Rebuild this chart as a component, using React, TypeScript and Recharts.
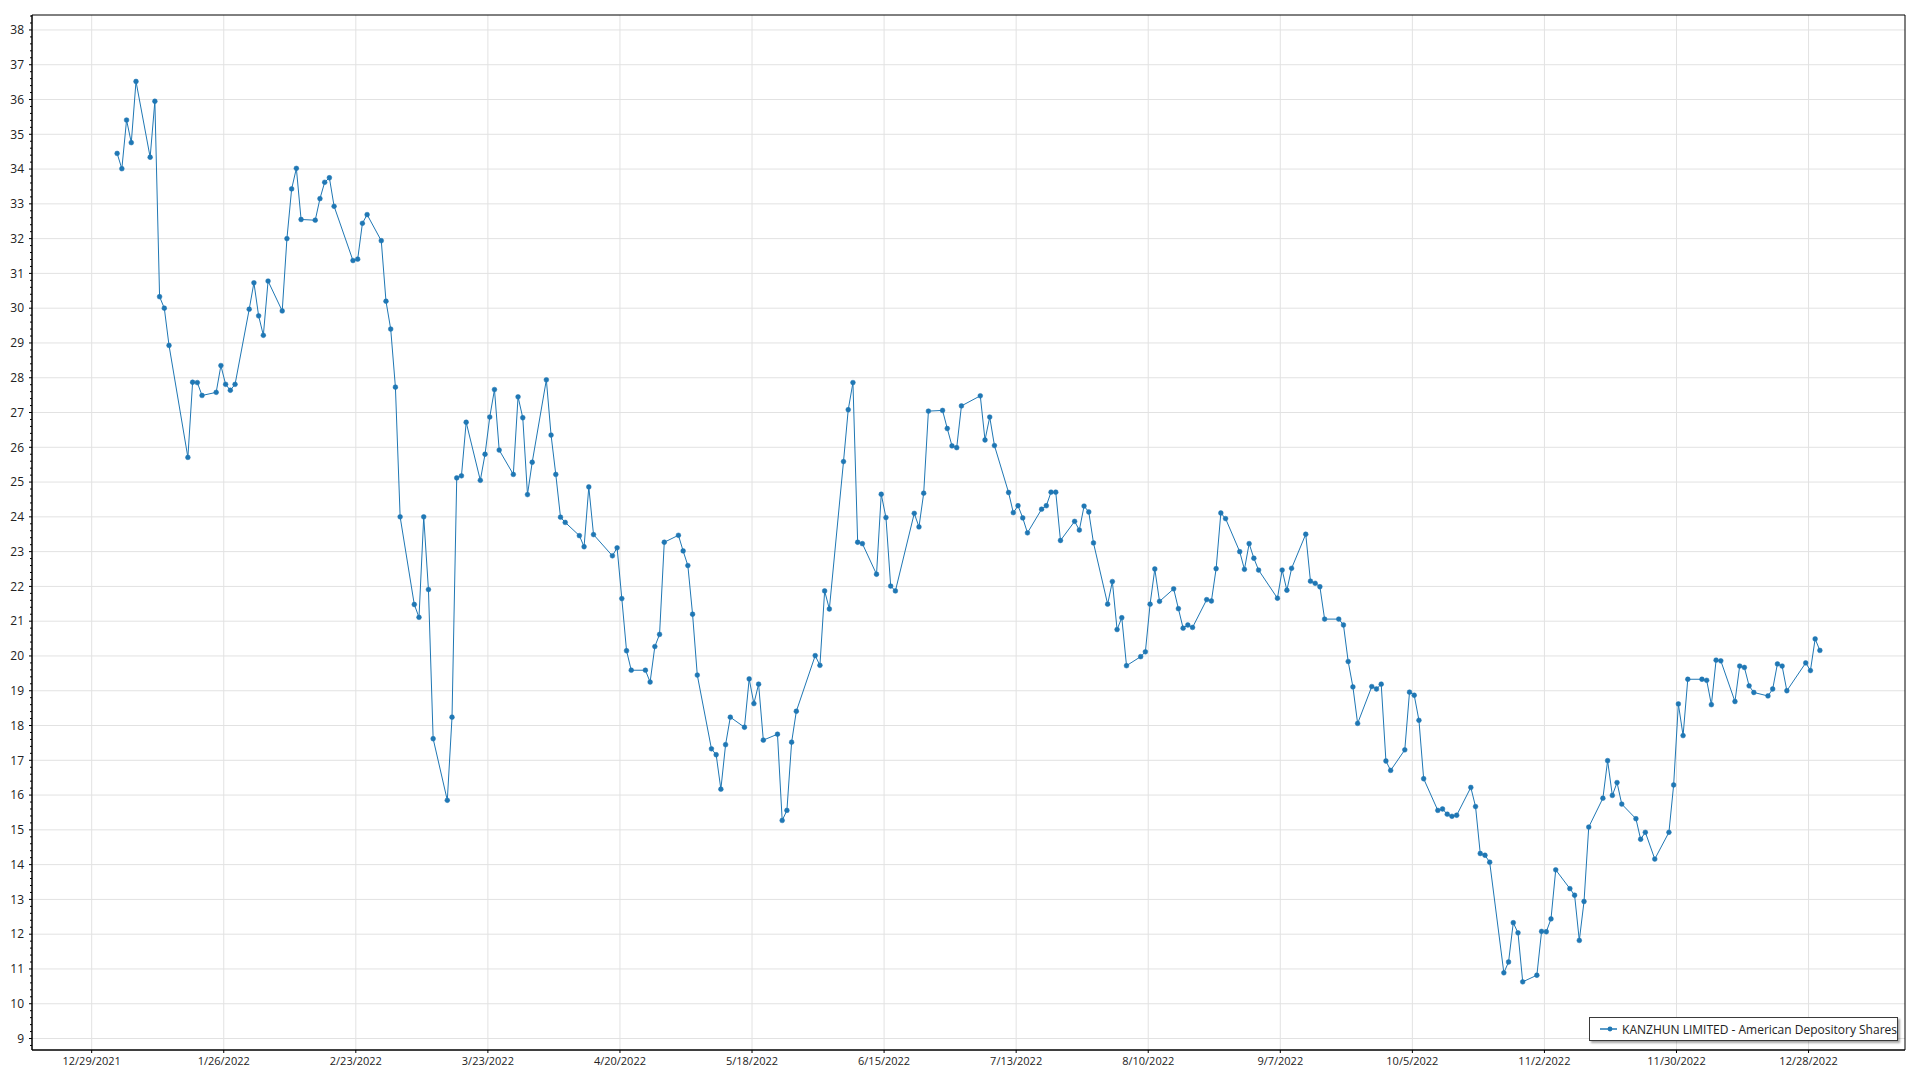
import React from 'react';
import { LineChart, Line, XAxis, YAxis, CartesianGrid, ReferenceArea } from 'recharts';

const SERIES_NAME = 'KANZHUN LIMITED - American Depository Shares';

const dates: string[] = [
  '2022-01-03','2022-01-04','2022-01-05','2022-01-06','2022-01-07','2022-01-10','2022-01-11','2022-01-12','2022-01-13','2022-01-14',
  '2022-01-18','2022-01-19','2022-01-20','2022-01-21','2022-01-24','2022-01-25','2022-01-26','2022-01-27','2022-01-28','2022-01-31',
  '2022-02-01','2022-02-02','2022-02-03','2022-02-04','2022-02-07','2022-02-08','2022-02-09','2022-02-10','2022-02-11','2022-02-14',
  '2022-02-15','2022-02-16','2022-02-17','2022-02-18','2022-02-22','2022-02-23','2022-02-24','2022-02-25','2022-02-28','2022-03-01',
  '2022-03-02','2022-03-03','2022-03-04','2022-03-07','2022-03-08','2022-03-09','2022-03-10','2022-03-11','2022-03-14','2022-03-15',
  '2022-03-16','2022-03-17','2022-03-18','2022-03-21','2022-03-22','2022-03-23','2022-03-24','2022-03-25','2022-03-28','2022-03-29',
  '2022-03-30','2022-03-31','2022-04-01','2022-04-04','2022-04-05','2022-04-06','2022-04-07','2022-04-08','2022-04-11','2022-04-12',
  '2022-04-13','2022-04-14','2022-04-18','2022-04-19','2022-04-20','2022-04-21','2022-04-22','2022-04-25','2022-04-26','2022-04-27',
  '2022-04-28','2022-04-29','2022-05-02','2022-05-03','2022-05-04','2022-05-05','2022-05-06','2022-05-09','2022-05-10','2022-05-11',
  '2022-05-12','2022-05-13','2022-05-16','2022-05-17','2022-05-18','2022-05-19','2022-05-20','2022-05-23','2022-05-24','2022-05-25',
  '2022-05-26','2022-05-27','2022-05-31','2022-06-01','2022-06-02','2022-06-03','2022-06-06','2022-06-07','2022-06-08','2022-06-09',
  '2022-06-10','2022-06-13','2022-06-14','2022-06-15','2022-06-16','2022-06-17','2022-06-21','2022-06-22','2022-06-23','2022-06-24',
  '2022-06-27','2022-06-28','2022-06-29','2022-06-30','2022-07-01','2022-07-05','2022-07-06','2022-07-07','2022-07-08','2022-07-11',
  '2022-07-12','2022-07-13','2022-07-14','2022-07-15','2022-07-18','2022-07-19','2022-07-20','2022-07-21','2022-07-22','2022-07-25',
  '2022-07-26','2022-07-27','2022-07-28','2022-07-29','2022-08-01','2022-08-02','2022-08-03','2022-08-04','2022-08-05','2022-08-08',
  '2022-08-09','2022-08-10','2022-08-11','2022-08-12','2022-08-15','2022-08-16','2022-08-17','2022-08-18','2022-08-19','2022-08-22',
  '2022-08-23','2022-08-24','2022-08-25','2022-08-26','2022-08-29','2022-08-30','2022-08-31','2022-09-01','2022-09-02','2022-09-06',
  '2022-09-07','2022-09-08','2022-09-09','2022-09-12','2022-09-13','2022-09-14','2022-09-15','2022-09-16','2022-09-19','2022-09-20',
  '2022-09-21','2022-09-22','2022-09-23','2022-09-26','2022-09-27','2022-09-28','2022-09-29','2022-09-30','2022-10-03','2022-10-04',
  '2022-10-05','2022-10-06','2022-10-07','2022-10-10','2022-10-11','2022-10-12','2022-10-13','2022-10-14','2022-10-17','2022-10-18',
  '2022-10-19','2022-10-20','2022-10-21','2022-10-24','2022-10-25','2022-10-26','2022-10-27','2022-10-28','2022-10-31','2022-11-01',
  '2022-11-02','2022-11-03','2022-11-04','2022-11-07','2022-11-08','2022-11-09','2022-11-10','2022-11-11','2022-11-14','2022-11-15',
  '2022-11-16','2022-11-17','2022-11-18','2022-11-21','2022-11-22','2022-11-23','2022-11-25','2022-11-28','2022-11-29','2022-11-30',
  '2022-12-01','2022-12-02','2022-12-05','2022-12-06','2022-12-07','2022-12-08','2022-12-09','2022-12-12','2022-12-13','2022-12-14',
  '2022-12-15','2022-12-16','2022-12-19','2022-12-20','2022-12-21','2022-12-22','2022-12-23','2022-12-27','2022-12-28','2022-12-29',
  '2022-12-30',
];

const closes: number[] = [
  34.45, 34.01, 35.41, 34.76, 36.52, 34.34, 35.95, 30.33, 30.00, 28.93,
  25.71, 27.87, 27.86, 27.49, 27.58, 28.35, 27.81, 27.64, 27.81, 29.97,
  30.73, 29.78, 29.22, 30.78, 29.92, 32.00, 33.43, 34.02, 32.55, 32.53,
  33.15, 33.62, 33.75, 32.93, 31.37, 31.41, 32.44, 32.69, 31.94, 30.20,
  29.40, 27.73, 24.00, 21.48, 21.11, 24.00, 21.91, 17.62, 15.85, 18.24,
  25.12, 25.18, 26.72, 25.05, 25.80, 26.87, 27.66, 25.92, 25.22, 27.45,
  26.85, 24.64, 25.57, 27.94, 26.35, 25.22, 23.99, 23.84, 23.46, 23.14,
  24.86, 23.49, 22.88, 23.11, 21.65, 20.15, 19.59, 19.59, 19.25, 20.27,
  20.62, 23.27, 23.47, 23.02, 22.60, 21.20, 19.45, 17.33, 17.16, 16.17,
  17.45, 18.24, 17.95, 19.34, 18.63, 19.19, 17.58, 17.75, 15.27, 15.56,
  17.52, 18.41, 20.01, 19.73, 21.87, 21.35, 25.59, 27.08, 27.86, 23.27,
  23.23, 22.35, 24.65, 23.98, 22.01, 21.87, 24.10, 23.71, 24.68, 27.04,
  27.06, 26.54, 26.04, 25.99, 27.19, 27.48, 26.21, 26.87, 26.05, 24.70,
  24.12, 24.32, 23.97, 23.54, 24.22, 24.32, 24.71, 24.71, 23.32, 23.87,
  23.62, 24.31, 24.14, 23.25, 21.49, 22.14, 20.76, 21.10, 19.72, 19.98,
  20.12, 21.49, 22.50, 21.57, 21.93, 21.36, 20.80, 20.89, 20.82, 21.62,
  21.58, 22.51, 24.11, 23.95, 23.00, 22.49, 23.23, 22.81, 22.47, 21.66,
  22.47, 21.89, 22.52, 23.50, 22.15, 22.09, 21.99, 21.06, 21.06, 20.89,
  19.84, 19.11, 18.06, 19.12, 19.05, 19.19, 16.98, 16.71, 17.30, 18.96,
  18.87, 18.15, 16.47, 15.56, 15.60, 15.45, 15.39, 15.42, 16.22, 15.67,
  14.32, 14.27, 14.07, 10.89, 11.20, 12.33, 12.04, 10.63, 10.82, 12.08,
  12.07, 12.44, 13.85, 13.31, 13.12, 11.82, 12.94, 15.08, 15.91, 16.99,
  15.99, 16.36, 15.74, 15.32, 14.73, 14.93, 14.16, 14.93, 16.29, 18.62,
  17.71, 19.33, 19.33, 19.30, 18.60, 19.88, 19.86, 18.69, 19.71, 19.67,
  19.14, 18.95, 18.85, 19.05, 19.77, 19.71, 19.00, 19.80, 19.58, 20.49,
  20.16,
];

const xTickLabels: string[] = [
  '12/29/2021', '1/26/2022', '2/23/2022', '3/23/2022', '4/20/2022', '5/18/2022', '6/15/2022',
  '7/13/2022', '8/10/2022', '9/7/2022', '10/5/2022', '11/2/2022', '11/30/2022', '12/28/2022',
];

const yTickLabels: number[] = [
  9, 10, 11, 12, 13, 14, 15, 16, 17, 18, 19, 20, 21, 22, 23, 24, 25, 26, 27, 28, 29, 30,
  31, 32, 33, 34, 35, 36, 37, 38,
];

const Y_DOMAIN: [number, number] = [8.67, 38.43];
const MINOR_STEP = 0.2;

const parseISO = (s: string) => {
  const [y, m, d] = s.split('-').map(Number);
  return Date.UTC(y, m - 1, d, 9, 30);
};
const parseUS = (s: string) => {
  const [m, d, y] = s.split('/').map(Number);
  return Date.UTC(y, m - 1, d);
};

const data = dates.map((d, i) => ({ t: parseISO(d), close: closes[i] }));
const xTicks = xTickLabels.map(parseUS);
const tMin = data[0].t;
const tMax = data[data.length - 1].t;
const pad = (tMax - tMin) * 0.05;
const X_DOMAIN: [number, number] = [tMin - pad, tMax + pad];

// major + minor y ticks (minor every 0.2 inside the domain)
const yAllTicks: number[] = [];
for (let k = Math.ceil(Y_DOMAIN[0] / MINOR_STEP); k * MINOR_STEP <= Y_DOMAIN[1]; k++) {
  yAllTicks.push(Math.round(k * MINOR_STEP * 10) / 10);
}
const isMajor = (v: number) => yTickLabels.includes(v);

const COLOR = '#1f77b4';
const FONT = '"Open Sans", "Noto Sans", sans-serif';

const fmtX = (v: number) => {
  const i = xTicks.indexOf(v);
  return i >= 0 ? xTickLabels[i] : '';
};

const YTick = (props: any) => {
  const { x, y, payload } = props;
  const v = payload.value as number;
  const major = isMajor(v);
  const axisX = x + 8;
  return (
    <g>
      <line x1={axisX - (major ? 3 : 2)} y1={y} x2={axisX} y2={y} stroke="#000" strokeWidth={1} />
      {major ? (
        <text x={x} y={y} dy="0.355em" textAnchor="end" fill="#222" fontSize={12} fontFamily={FONT}>
          {v}
        </text>
      ) : null}
    </g>
  );
};

export default function App() {
  return (
    <div style={{ position: 'absolute', left: 0, top: 0, width: 1920, height: 1080, background: '#fff' }}>
      <LineChart width={1920} height={1080} data={data} margin={{ top: 15, right: 15, bottom: 0, left: 0 }}>
        <CartesianGrid stroke="#e2e2e2" strokeWidth={1} horizontalValues={yTickLabels} verticalValues={xTicks} />
        <XAxis
          dataKey="t"
          type="number"
          scale="linear"
          domain={X_DOMAIN}
          allowDataOverflow
          ticks={xTicks}
          interval={0}
          tickFormatter={fmtX}
          height={30}
          tickSize={3}
          tickMargin={4}
          axisLine={{ stroke: '#000', strokeWidth: 1 }}
          tickLine={{ stroke: '#000' }}
          tick={{ fill: '#222', fontSize: 11, fontFamily: FONT }}
        />
        <YAxis
          type="number"
          domain={Y_DOMAIN}
          allowDataOverflow
          ticks={yAllTicks}
          interval={0}
          width={32}
          tickSize={3}
          tickMargin={5}
          axisLine={{ stroke: '#000', strokeWidth: 1 }}
          tickLine={false}
          tick={YTick}
        />
        <ReferenceArea
          x1={X_DOMAIN[0]}
          x2={X_DOMAIN[1]}
          y1={Y_DOMAIN[0]}
          y2={Y_DOMAIN[1]}
          fill="none"
          fillOpacity={0}
          stroke="#000"
          strokeWidth={1}
          ifOverflow="visible"
        />
        <Line
          type="linear"
          dataKey="close"
          name={SERIES_NAME}
          stroke={COLOR}
          strokeWidth={1}
          dot={{ r: 2.4, fill: COLOR, stroke: COLOR, strokeWidth: 0.5 }}
          activeDot={false}
          isAnimationActive={false}
        />
      </LineChart>
      <div
        style={{
          position: 'absolute',
          left: 1589,
          top: 1017,
          width: 307,
          height: 22,
          border: '1px solid #3a3a3a',
          background: '#fff',
          boxShadow: '2px 2px 2px rgba(0,0,0,0.35)',
          display: 'flex',
          alignItems: 'center',
          fontFamily: FONT,
          fontSize: 12,
          color: '#222',
          whiteSpace: 'nowrap',
        }}
      >
        <svg width={20} height={10} style={{ marginLeft: 10, marginRight: 5 }}>
          <line x1={0} y1={5} x2={20} y2={5} stroke={COLOR} strokeWidth={1.5} />
          <circle cx={10} cy={5} r={2.4} fill={COLOR} />
        </svg>
        <span>{SERIES_NAME}</span>
      </div>
    </div>
  );
}
